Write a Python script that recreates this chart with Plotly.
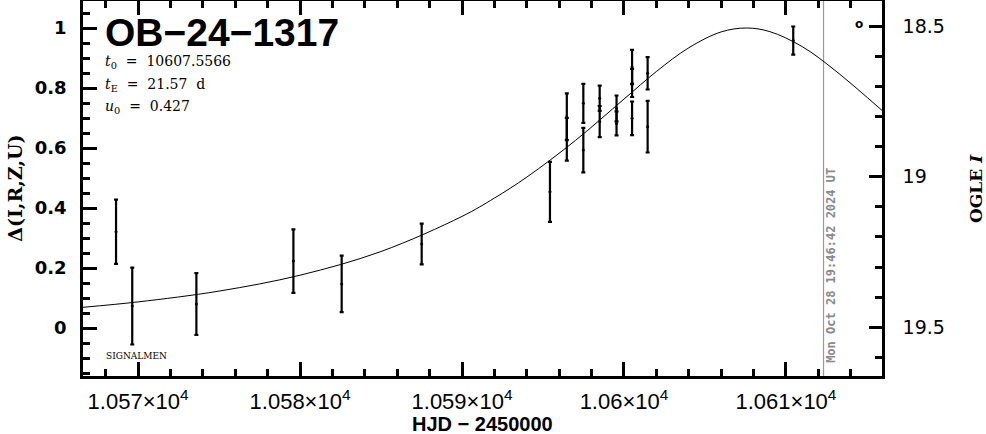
import plotly.graph_objects as go

# ---------------- data ----------------
# photometry: HJD-2450000, Delta(I,R,Z,U), error
obs_t = [10568.64, 10569.64, 10573.60, 10579.59, 10582.57, 10587.51, 10595.43,
         10596.47, 10596.47, 10597.49, 10597.49, 10598.50, 10598.50, 10599.54,
         10599.54, 10600.50, 10600.50, 10600.50, 10601.46, 10601.46, 10610.45]
obs_d = [0.321, 0.073, 0.080, 0.223, 0.147, 0.280, 0.454,
         0.704, 0.629, 0.749, 0.593, 0.766, 0.688, 0.732,
         0.682, 0.870, 0.817, 0.699, 0.849, 0.671, 0.958]
obs_e = [0.107, 0.128, 0.103, 0.106, 0.094, 0.068, 0.100,
         0.078, 0.071, 0.065, 0.074, 0.042, 0.052, 0.043,
         0.040, 0.057, 0.047, 0.056, 0.054, 0.086, 0.047]

# model light curve
model_t = [10566.6, 10570, 10575, 10580, 10585, 10590, 10592, 10594, 10597,
           10600, 10602, 10604, 10606, 10607.56, 10609, 10611, 10613, 10616]
model_d = [0.069, 0.087, 0.123, 0.176, 0.255, 0.372, 0.433, 0.503, 0.625,
           0.763, 0.855, 0.934, 0.987, 1.000, 0.988, 0.938, 0.860, 0.722]

x_tickvals = [10570, 10580, 10590, 10600, 10610]
x_ticktext = ["1.057×10<sup>4</sup>", "1.058×10<sup>4</sup>", "1.059×10<sup>4</sup>",
              "1.06×10<sup>4</sup>", "1.061×10<sup>4</sup>"]
y_tickvals = [0, 0.2, 0.4, 0.6, 0.8, 1]
y_ticktext = ["0", "0.2", "0.4", "0.6", "0.8", "1"]
mag_tickvals = [18.5, 19.0, 19.5]
mag_ticktext = ["18.5", "19", "19.5"]

NOW_HJD = 10612.32
X_RANGE = [10566.6, 10615.93]
Y_RANGE = [-0.16, 1.09]
MAG_RANGE = [19.662, 18.416]

x_title = "HJD − 2450000"
y_title = "Δ(I,R,Z,U)"
y2_title = "OGLE <i>I</i>"
event_name = "OB−24−1317"
param_lines = ["<i>t</i><sub>0</sub>  =  10607.5566",
               "<i>t</i><sub>E</sub>  =  21.57  d",
               "<i>u</i><sub>0</sub>  =  0.427"]
stamp = "Mon Oct 28 19:46:42 2024 UT"

# ---------------- figure ----------------
fig = go.Figure()

fig.add_trace(go.Scatter(
    x=model_t, y=model_d, mode="lines",
    line=dict(color="black", width=1, shape="spline", smoothing=1.0),
    hoverinfo="skip", showlegend=False))

fig.add_trace(go.Scatter(
    x=obs_t, y=obs_d, mode="markers",
    marker=dict(color="black", size=3),
    error_y=dict(type="data", array=obs_e, visible=True,
                 color="black", thickness=2.2, width=2),
    showlegend=False))

# invisible trace to activate the magnitude axis
fig.add_trace(go.Scatter(x=[X_RANGE[1]], y=[19.0], yaxis="y2", mode="markers",
                         marker=dict(opacity=0), hoverinfo="skip", showlegend=False))

fig.add_shape(type="line", xref="x", yref="paper", x0=NOW_HJD, x1=NOW_HJD,
              y0=0, y1=1, line=dict(color="#999999", width=1.2), layer="below")

fig.update_layout(
    width=986, height=434,
    margin=dict(l=83, r=104, t=1, b=58, autoexpand=False),
    paper_bgcolor="white", plot_bgcolor="white",
    showlegend=False,
    xaxis=dict(
        range=X_RANGE, tickvals=x_tickvals, ticktext=x_ticktext,
        automargin=False,
        ticks="inside", ticklen=14, tickwidth=2.5, tickcolor="black",
        minor=dict(dtick=2, tick0=10570, ticks="inside", ticklen=7,
                   tickwidth=2.5, tickcolor="black"),
        showline=True, linewidth=2.5, linecolor="black", mirror="ticks",
        showgrid=False, zeroline=False,
        tickfont=dict(family="Liberation Sans Narrow, Liberation Sans, sans-serif",
                      size=22, color="black"),
        ticklabelstandoff=4,
    ),
    yaxis=dict(
        range=Y_RANGE, tickvals=y_tickvals, ticktext=y_ticktext,
        automargin=False,
        ticks="inside", ticklen=14, tickwidth=2.5, tickcolor="black",
        minor=dict(dtick=0.05, tick0=0, ticks="inside", ticklen=7,
                   tickwidth=2.5, tickcolor="black"),
        showline=True, linewidth=2.5, linecolor="black", mirror=True,
        showgrid=False, zeroline=False,
        tickfont=dict(family="DejaVu Sans, sans-serif", size=18,
                      color="black", weight="bold"),
        ticklabelstandoff=10,
    ),
    yaxis2=dict(
        range=MAG_RANGE, overlaying="y", side="right", anchor="x",
        automargin=False,
        tickvals=mag_tickvals, ticktext=mag_ticktext,
        ticks="inside", ticklen=13, tickwidth=2.5, tickcolor="black",
        minor=dict(dtick=0.1, tick0=18.5, ticks="inside", ticklen=7,
                   tickwidth=2.5, tickcolor="black"),
        showline=True, linewidth=2.5, linecolor="black",
        showgrid=False, zeroline=False,
        tickfont=dict(family="DejaVu Sans, sans-serif", size=19, color="black"),
        ticklabelstandoff=14,
    ),
)

annotations = [
    dict(text=x_title, x=0.5, y=-0.127, xref="paper", yref="paper",
         xanchor="center", yanchor="middle", showarrow=False,
         font=dict(family="Liberation Sans Narrow, Liberation Sans, sans-serif",
                   size=20, color="black", weight="bold")),
    dict(text=y_title, x=-0.086, y=0.5, xref="paper", yref="paper",
         xanchor="center", yanchor="middle", showarrow=False, textangle=-90,
         font=dict(family="DejaVu Serif, serif", size=19,
                   color="black", weight="bold")),
    dict(text=y2_title, x=1.117, y=0.5, xref="paper", yref="paper",
         xanchor="center", yanchor="middle", showarrow=False, textangle=-90,
         font=dict(family="DejaVu Serif, serif", size=17,
                   color="black", weight="bold")),
    dict(text=event_name, x=0.025, y=0.915, xref="paper", yref="paper",
         xanchor="left", yanchor="middle", showarrow=False,
         font=dict(family="Liberation Sans, sans-serif", size=39,
                   color="black", weight="bold")),
    dict(text="SIGNALMEN", x=0.026, y=0.054, xref="paper", yref="paper",
         xanchor="left", yanchor="middle", showarrow=False,
         font=dict(family="DejaVu Serif, serif", size=9, color="black")),
    dict(text=stamp, x=0.936, y=0.296, xref="paper", yref="paper",
         xanchor="center", yanchor="middle", showarrow=False, textangle=-90,
         font=dict(family="DejaVu Sans Mono, monospace", size=12,
                   color="#8a8a8a", weight="bold")),
    dict(text="o", x=0.971, y=0.94, xref="paper", yref="paper",
         xanchor="center", yanchor="middle", showarrow=False,
         font=dict(family="DejaVu Sans, sans-serif", size=12,
                   color="black", weight="bold")),
]
for line, yp in zip(param_lines, [0.837, 0.776, 0.717]):
    annotations.append(dict(text=line, x=0.025, y=yp, xref="paper", yref="paper",
                            xanchor="left", yanchor="middle", showarrow=False,
                            font=dict(family="DejaVu Serif, serif", size=14,
                                      color="black")))
fig.update_layout(annotations=annotations)

fig.write_html("out.html", config={"displayModeBar": False},
               post_script="document.body.style.margin='0';document.body.style.padding='0';")
